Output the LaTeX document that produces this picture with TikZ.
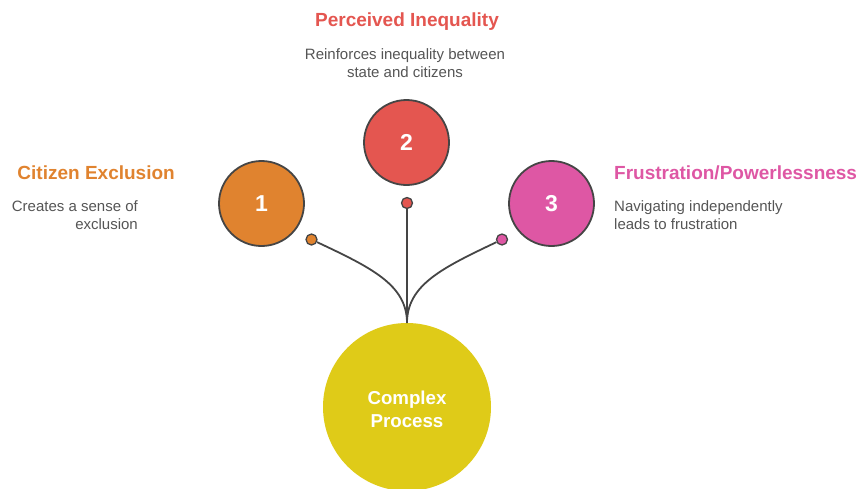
\documentclass[tikz,border=0pt]{standalone}
\usepackage{fontspec}
\setmainfont{Liberation Sans}
\definecolor{corange}{HTML}{E0832F}
\definecolor{cred}{HTML}{E45650}
\definecolor{cpink}{HTML}{DE57A4}
\definecolor{cyellow}{HTML}{DFCB18}
\definecolor{cstroke}{HTML}{454545}
\definecolor{ctext}{HTML}{555555}
\tikzset{
  numcircle/.style={circle, draw=cstroke, line width=1.8pt, minimum size=85pt, inner sep=0pt, text=white, font=\bfseries\fontsize{23}{23}\selectfont},
  dot/.style={circle, draw=cstroke, line width=1.3pt, minimum size=11pt, inner sep=0pt},
  conn/.style={draw=cstroke, line width=1.8pt},
  title/.style={font=\bfseries\fontsize{19}{21}\selectfont, inner sep=0pt},
  desc/.style={font=\fontsize{15}{18}\selectfont, text=ctext, inner sep=0pt},
}
\begin{document}
\begin{tikzpicture}[x=1pt,y=-1pt]
\useasboundingbox (0,0) rectangle (860,488);
\begin{scope}
\clip (0,0) rectangle (860,488);
\node[circle, fill=cyellow, minimum size=168pt, inner sep=0pt] (main) at (407,407) {};
\end{scope}
\node[text=white, font=\bfseries\fontsize{18.7}{23}\selectfont, align=center] (maintext) at (407,409) {Complex\\Process};
\coordinate (hub) at (407,323);
\node[dot, fill=corange] (d1) at (311.5,239.5) {};
\node[dot, fill=cred] (d2) at (407,203) {};
\node[dot, fill=cpink] (d3) at (502,239.5) {};
\draw[conn] (d1) .. controls (372,268) and (407,285) .. (hub);
\draw[conn] (d3) .. controls (442,268) and (407,285) .. (hub);
\draw[conn] (d2) -- (hub);
\node[numcircle, fill=corange] (c1) at (261.5,203.5) {1};
\node[numcircle, fill=cred] (c2) at (406.5,142.5) {2};
\node[numcircle, fill=cpink] (c3) at (551.5,203.5) {3};
\node[title, text=corange, anchor=east] (t1) at (175,173) {Citizen Exclusion};
\node[desc, align=right, anchor=north east] (s1) at (138,200) {Creates a sense of\\exclusion};
\node[title, text=cred] (t2) at (407,22) {Perceived Inequality};
\node[desc, align=center, anchor=north] (s2) at (405,48) {Reinforces inequality between\\state and citizens};
\node[title, text=cpink, anchor=west] (t3) at (614,173) {Frustration/Powerlessness};
\node[desc, align=left, anchor=north west] (s3) at (614,200) {Navigating independently\\leads to frustration};
\end{tikzpicture}
\end{document}
